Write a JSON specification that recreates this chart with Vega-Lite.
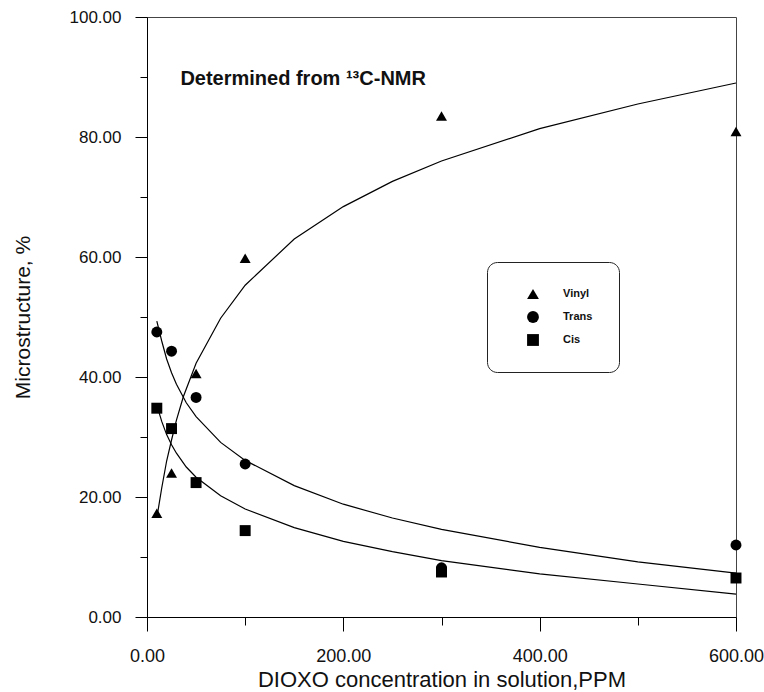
{
  "$schema": "https://vega.github.io/schema/vega-lite/v6.json",
  "autosize": "none",
  "width": 589,
  "height": 600,
  "padding": {"left": 147, "top": 17, "right": 28, "bottom": 75},
  "background": "white",
  "config": {
    "view": {"stroke": "#444", "strokeWidth": 1},
    "font": "Liberation Sans"
  },
  "datasets": {
    "points": [
      {"ppm": 10, "value": 17.3, "series": "Vinyl"},
      {"ppm": 25, "value": 24.0, "series": "Vinyl"},
      {"ppm": 50, "value": 40.6, "series": "Vinyl"},
      {"ppm": 100, "value": 59.8, "series": "Vinyl"},
      {"ppm": 300, "value": 83.5, "series": "Vinyl"},
      {"ppm": 600, "value": 80.9, "series": "Vinyl"},
      {"ppm": 10, "value": 47.5, "series": "Trans"},
      {"ppm": 25, "value": 44.3, "series": "Trans"},
      {"ppm": 50, "value": 36.6, "series": "Trans"},
      {"ppm": 100, "value": 25.5, "series": "Trans"},
      {"ppm": 300, "value": 8.2, "series": "Trans"},
      {"ppm": 600, "value": 12.0, "series": "Trans"},
      {"ppm": 10, "value": 34.8, "series": "Cis"},
      {"ppm": 25, "value": 31.4, "series": "Cis"},
      {"ppm": 50, "value": 22.4, "series": "Cis"},
      {"ppm": 100, "value": 14.4, "series": "Cis"},
      {"ppm": 300, "value": 7.5, "series": "Cis"},
      {"ppm": 600, "value": 6.5, "series": "Cis"}
    ],
    "curves": [
      {"ppm": 10, "value": 16.5, "series": "Vinyl"},
      {"ppm": 15, "value": 21.5, "series": "Vinyl"},
      {"ppm": 20, "value": 26.0, "series": "Vinyl"},
      {"ppm": 25, "value": 29.5, "series": "Vinyl"},
      {"ppm": 30, "value": 32.8, "series": "Vinyl"},
      {"ppm": 37, "value": 36.7, "series": "Vinyl"},
      {"ppm": 50, "value": 42.3, "series": "Vinyl"},
      {"ppm": 75, "value": 49.8, "series": "Vinyl"},
      {"ppm": 100, "value": 55.3, "series": "Vinyl"},
      {"ppm": 150, "value": 63.0, "series": "Vinyl"},
      {"ppm": 200, "value": 68.4, "series": "Vinyl"},
      {"ppm": 250, "value": 72.6, "series": "Vinyl"},
      {"ppm": 300, "value": 76.0, "series": "Vinyl"},
      {"ppm": 400, "value": 81.4, "series": "Vinyl"},
      {"ppm": 500, "value": 85.5, "series": "Vinyl"},
      {"ppm": 600, "value": 89.0, "series": "Vinyl"},
      {"ppm": 10, "value": 49.3, "series": "Trans"},
      {"ppm": 15, "value": 46.0, "series": "Trans"},
      {"ppm": 20, "value": 43.0, "series": "Trans"},
      {"ppm": 25, "value": 40.7, "series": "Trans"},
      {"ppm": 30, "value": 38.8, "series": "Trans"},
      {"ppm": 40, "value": 35.7, "series": "Trans"},
      {"ppm": 50, "value": 33.4, "series": "Trans"},
      {"ppm": 75, "value": 29.1, "series": "Trans"},
      {"ppm": 100, "value": 26.1, "series": "Trans"},
      {"ppm": 150, "value": 21.9, "series": "Trans"},
      {"ppm": 200, "value": 18.8, "series": "Trans"},
      {"ppm": 250, "value": 16.5, "series": "Trans"},
      {"ppm": 300, "value": 14.6, "series": "Trans"},
      {"ppm": 400, "value": 11.6, "series": "Trans"},
      {"ppm": 500, "value": 9.2, "series": "Trans"},
      {"ppm": 600, "value": 7.3, "series": "Trans"},
      {"ppm": 10, "value": 35.3, "series": "Cis"},
      {"ppm": 15, "value": 32.6, "series": "Cis"},
      {"ppm": 20, "value": 30.4, "series": "Cis"},
      {"ppm": 25, "value": 28.7, "series": "Cis"},
      {"ppm": 30, "value": 27.3, "series": "Cis"},
      {"ppm": 40, "value": 25.0, "series": "Cis"},
      {"ppm": 50, "value": 23.3, "series": "Cis"},
      {"ppm": 75, "value": 20.2, "series": "Cis"},
      {"ppm": 100, "value": 18.0, "series": "Cis"},
      {"ppm": 150, "value": 14.9, "series": "Cis"},
      {"ppm": 200, "value": 12.6, "series": "Cis"},
      {"ppm": 250, "value": 10.9, "series": "Cis"},
      {"ppm": 300, "value": 9.4, "series": "Cis"},
      {"ppm": 400, "value": 7.2, "series": "Cis"},
      {"ppm": 500, "value": 5.5, "series": "Cis"},
      {"ppm": 600, "value": 3.8, "series": "Cis"}
    ],
    "label": [
      {"ppm": 34, "value": 89.7, "text": "Determined from ¹³C-NMR"}
    ]
  },
  "layer": [
    {
      "data": {"name": "curves"},
      "mark": {"type": "line", "color": "black", "strokeWidth": 1.2},
      "encoding": {
        "x": {
          "field": "ppm", "type": "quantitative",
          "scale": {"domain": [0, 600], "nice": false, "zero": false},
          "axis": {
            "title": "DIOXO concentration in solution,PPM",
            "titleFontSize": 22, "titleFontWeight": "normal", "titleColor": "#111",
            "titlePadding": 4,
            "values": [0, 100, 200, 300, 400, 500, 600],
            "labelExpr": "datum.value % 200 === 0 ? format(datum.value, '.2f') : ''",
            "labelFontSize": 18, "labelColor": "#111", "labelPadding": 16,
            "labelFlush": false,
            "domainColor": "black", "tickColor": "black",
            "tickSize": {"condition": {"test": "datum.value % 200 !== 0", "value": 8}, "value": 14},
            "grid": false
          }
        },
        "y": {
          "field": "value", "type": "quantitative",
          "scale": {"domain": [0, 100], "nice": false},
          "axis": {
            "title": "Microstructure, %",
            "titleFontSize": 21, "titleFontWeight": "normal", "titleColor": "#111",
            "titlePadding": 36,
            "values": [0, 10, 20, 30, 40, 50, 60, 70, 80, 90, 100],
            "labelExpr": "datum.value % 20 === 0 ? format(datum.value, '.2f') : ''",
            "labelFontSize": 17, "labelColor": "#111", "labelPadding": 14,
            "labelFlush": false,
            "domainColor": "black", "tickColor": "black",
            "tickSize": {"condition": {"test": "datum.value % 20 !== 0", "value": 7}, "value": 12},
            "grid": false
          }
        },
        "detail": {"field": "series", "type": "nominal"}
      }
    },
    {
      "data": {"name": "points"},
      "mark": {"type": "point", "filled": true, "color": "black", "opacity": 1, "size": 120},
      "encoding": {
        "x": {"field": "ppm", "type": "quantitative"},
        "y": {"field": "value", "type": "quantitative"},
        "shape": {
          "field": "series", "type": "nominal",
          "scale": {"domain": ["Vinyl", "Trans", "Cis"], "range": ["triangle-up", "circle", "square"]},
          "legend": {
            "title": null,
            "orient": "none",
            "legendX": 340,
            "legendY": 245,
            "padding": 26,
            "strokeColor": "#222",
            "cornerRadius": 10,
            "symbolFillColor": "black",
            "symbolStrokeWidth": 0,
            "symbolSize": 140,
            "symbolOffset": 14,
            "labelOffset": 24,
            "labelFontSize": 11,
            "labelFontWeight": "bold",
            "labelColor": "#111",
            "rowPadding": 11
          }
        }
      }
    },
    {
      "data": {"name": "label"},
      "mark": {"type": "text", "align": "left", "baseline": "middle", "fontSize": 20, "fontWeight": "bold", "color": "#111"},
      "encoding": {
        "x": {"field": "ppm", "type": "quantitative"},
        "y": {"field": "value", "type": "quantitative"},
        "text": {"field": "text"}
      }
    }
  ]
}
